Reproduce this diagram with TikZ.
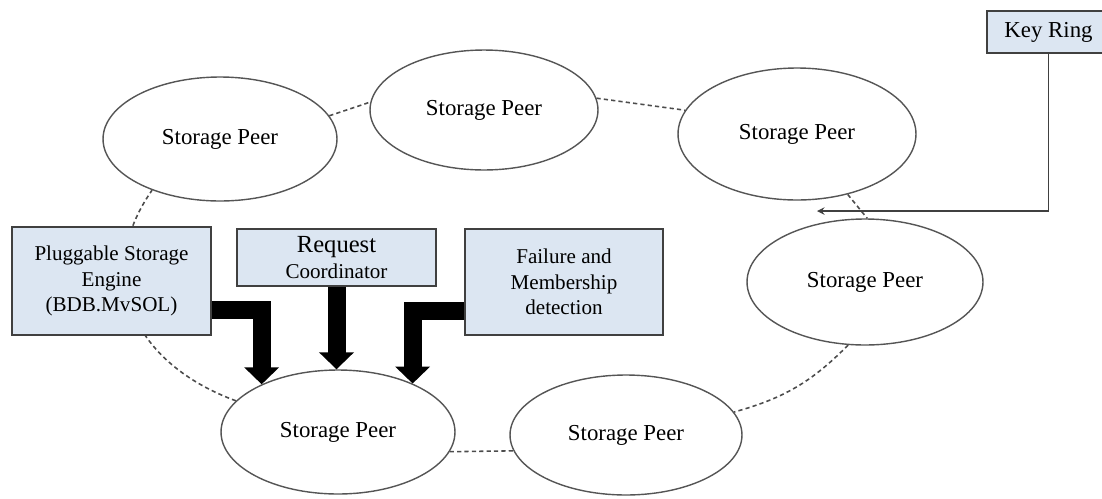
\documentclass[tikz,border=0pt]{standalone}
\usepackage{fontspec}
\setmainfont{Liberation Serif}
\usetikzlibrary{shapes,arrows,arrows.meta,positioning,calc,backgrounds}
\definecolor{boxblue}{RGB}{220,230,242}
\definecolor{edgegray}{RGB}{85,85,85}

\begin{document}
\begin{tikzpicture}[x=0.02cm, y=0.02cm, >=stealth, thick]
  \tikzstyle{peer} = [ellipse, draw=edgegray, line width=0.8pt, fill=white, inner sep=0pt, font=\fontsize{13}{15}\selectfont]
  \tikzstyle{box} = [rectangle, draw=black!75, line width=1pt, fill=boxblue, align=center, inner sep=0pt, font=\fontsize{12}{14.5}\selectfont]
  \tikzstyle{ring} = [draw=black!70, line width=0.9pt, dash pattern=on 2.4pt off 1.8pt]
  \tikzstyle{bigarrow} = [draw=black, line width=0.36cm, -{Triangle[width=0.68cm, length=0.34cm]}]

  \useasboundingbox (0,0) rectangle (1102,-498);

  % storage peers on the ring
  \node[peer, minimum width=4.68cm, minimum height=2.48cm] (peer_nw) at (220,-139) {Storage Peer};
  \node[peer, minimum width=4.56cm, minimum height=2.40cm] (peer_n) at (484,-110) {Storage Peer};
  \node[peer, minimum width=4.76cm, minimum height=2.64cm] (peer_ne) at (797,-134) {Storage Peer};
  \node[peer, minimum width=4.72cm, minimum height=2.52cm] (peer_e) at (865,-282) {Storage Peer};
  \node[peer, minimum width=4.64cm, minimum height=2.40cm] (peer_se) at (626,-435) {Storage Peer};
  \node[peer, minimum width=4.68cm, minimum height=2.48cm] (peer_s) at (338,-432) {Storage Peer};

  % components
  \node[box, minimum width=3.98cm, minimum height=2.16cm] (engine) at (111.5,-281) {Pluggable Storage\\Engine\\(BDB.MvSOL)};
  \node[box, minimum width=3.98cm, minimum height=1.14cm] (coord) at (336.5,-257.5) {{\fontsize{14}{16}\selectfont Request}\\Coordinator};
  \node[box, minimum width=3.96cm, minimum height=2.12cm] (failure) at (564,-282) {Failure and\\Membership\\detection};
  \node[box, minimum width=2.46cm, minimum height=0.84cm, font=\fontsize{13}{15}\selectfont] (keyring) at (1048.5,-32) {Key Ring};
  \coordinate (ringpt) at (817,-211);

  % dashed ring
  \begin{scope}[on background layer]
    \draw[ring] (peer_nw.12) -- (peer_n.176);
    \draw[ring] (peer_n.6) -- (peer_ne.168);
    \draw[ring] (peer_ne.-50) -- (peer_e.88);
    \draw[ring] (peer_e.-105) to[bend left=15] (peer_se.12);
    \draw[ring] (peer_s.-10) -- (peer_se.188);
    \draw[ring] (peer_s.163) to[out=160, in=235, looseness=1.2] (peer_nw.217);
  \end{scope}

  \draw[bigarrow] ($(engine.east)+(0,-29)$) -| (peer_s.148);
  \draw[bigarrow] (coord.south) -- (coord.south |- peer_s.north);
  \draw[bigarrow] ($(failure.west)+(0,-29)$) -| (peer_s.33);
  \draw[->, draw=black!75, line width=0.9pt] (keyring.south) |- (ringpt);
\end{tikzpicture}
\end{document}
